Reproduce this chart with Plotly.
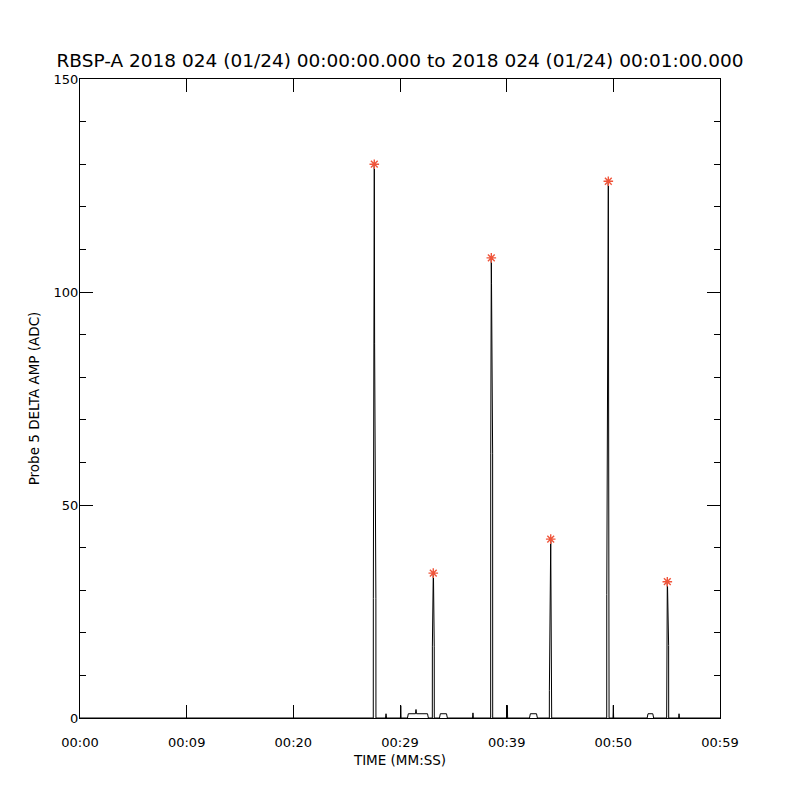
import plotly.graph_objects as go

# Waveform samples (seconds, ADC)
time_s = [0.00, 27.495, 27.50, 27.59, 27.62, 27.74, 27.745,
          28.64, 28.69, 28.74,
          30.04, 30.07, 30.10,
          30.70, 30.78, 31.45, 31.50, 31.55, 32.58, 32.66,
          33.03, 33.035, 33.12, 33.14, 33.21, 33.215,
          33.70, 33.78, 34.36, 34.44,
          36.80, 36.84, 36.88,
          38.50, 38.505, 38.56, 38.58, 38.685, 38.69,
          40.03, 40.06, 40.09,
          42.14, 42.22, 42.80, 42.88,
          44.00, 44.005, 44.13, 44.15, 44.215, 44.22,
          49.38, 49.385, 49.53, 49.55, 49.595, 49.60,
          49.97, 50.00, 50.03,
          53.17, 53.25, 53.70, 53.78,
          55.00, 55.005, 55.06, 55.08, 55.185, 55.19,
          56.12, 56.16, 56.20,
          60.00]
amp_adc = [0, 0, 28, 130, 88, 28, 0,
           0, 1, 0,
           0, 2.9, 0,
           0, 1, 1, 2, 1, 1, 0,
           0, 16.7, 34, 33, 16.7, 0,
           0, 1, 1, 0,
           0, 1.2, 0,
           0, 62, 108, 102, 62, 0,
           0, 3, 0,
           0, 1, 1, 0,
           0, 6.5, 42, 27.5, 6.5, 0,
           0, 29, 126, 83, 29, 0,
           0, 3, 0,
           0, 1, 1, 0,
           0, 17, 32, 31, 17, 0,
           0, 1, 0,
           0]

# Detected peaks (red asterisks)
peak_times = [27.59, 33.12, 38.56, 44.13, 49.53, 55.06]
peak_values = [130, 34, 108, 42, 126, 32]

# Axis ticks
x_tickvals = [0, 10, 20, 30, 40, 50, 60]
x_ticktext = ["00:00", "00:09", "00:20", "00:29", "00:39", "00:50", "00:59"]
y_tickvals = [0, 50, 100, 150]

title_text = "RBSP-A 2018 024 (01/24) 00:00:00.000 to 2018 024 (01/24) 00:01:00.000"

FONT = "DejaVu Sans"

fig = go.Figure()
fig.add_trace(go.Scatter(x=time_s, y=amp_adc, mode="lines",
                         line=dict(color="black", width=1),
                         showlegend=False, hoverinfo="skip"))
fig.add_trace(go.Scatter(x=peak_times, y=peak_values, mode="markers",
                         marker=dict(symbol="asterisk-open", size=8,
                                     line=dict(color="red", width=1.4)),
                         showlegend=False))

fig.update_layout(
    width=800, height=800, autosize=False,
    paper_bgcolor="white", plot_bgcolor="white",
    margin=dict(l=72, r=88, t=71, b=90),
    font=dict(family=FONT, color="black", size=13),
    title=dict(text=title_text, x=(400 - 8) / 800, xanchor="center",
               y=1 - 53 / 800, yanchor="middle", yref="container",
               font=dict(family=FONT, size=18.5, color="black")),
    xaxis=dict(range=[0, 60], tickvals=x_tickvals, ticktext=x_ticktext,
               ticks="inside", ticklen=13, tickwidth=1, tickcolor="black",
               showline=True, linecolor="black", linewidth=1, mirror="ticks",
               showgrid=False, zeroline=False, ticklabelstandoff=12,
               tickfont=dict(size=13),
               title=dict(text="TIME (MM:SS)", font=dict(size=13.5), standoff=6)),
    yaxis=dict(range=[0, 150], tickvals=y_tickvals,
               ticks="inside", ticklen=13, tickwidth=1, tickcolor="black",
               minor=dict(dtick=10, ticks="inside", ticklen=6, tickwidth=1,
                          tickcolor="black", showgrid=False),
               showline=True, linecolor="black", linewidth=1, mirror="ticks",
               showgrid=False, zeroline=False, ticklabelstandoff=-2,
               tickfont=dict(size=13),
               title=dict(text="Probe 5 DELTA AMP (ADC)", font=dict(size=13.5), standoff=10)),
)

fig.write_html("out.html")
